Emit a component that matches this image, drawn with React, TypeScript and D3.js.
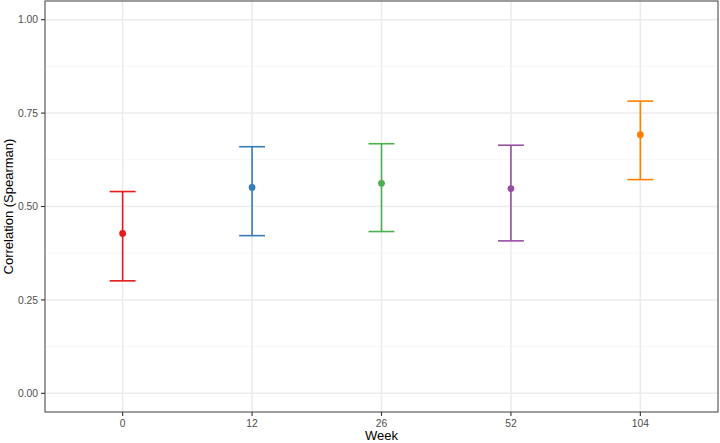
import React from "react";
import * as d3 from "d3";

const weeks = ["0", "12", "26", "52", "104"];
const estimates = [0.428, 0.551, 0.562, 0.548, 0.692];
const lowers = [0.301, 0.422, 0.433, 0.408, 0.572];
const uppers = [0.540, 0.660, 0.668, 0.664, 0.782];
const colors = ["#E41A1C", "#377EB8", "#4DAF4A", "#984EA3", "#FF7F00"];
const yTicks = [0, 0.25, 0.5, 0.75, 1.0];
const yMinor = [0.125, 0.375, 0.625, 0.875];

const W = 720, H = 443;
const left = 45, right = 718, top = 1, bottom = 412;
const font = "'Liberation Sans', Arial, Helvetica, sans-serif";

export default function App() {
  const x = d3.scalePoint<string>().domain(weeks).range([left, right]).padding(0.6);
  const y = d3.scaleLinear().domain([-0.05, 1.05]).range([bottom, top]);
  const capHalf = (x.step() * 0.2) / 2;

  return (
    <svg width={W} height={H} style={{ position: "absolute", left: 0, top: 0 }} fontFamily={font}>
      <rect x={0} y={0} width={W} height={H} fill="#fff" />
      {yMinor.map((v) => (
        <line key={"mi" + v} x1={left} x2={right} y1={y(v)} y2={y(v)} stroke="#F2F2F2" strokeWidth={0.8} />
      ))}
      {yTicks.map((v) => (
        <line key={"ma" + v} x1={left} x2={right} y1={y(v)} y2={y(v)} stroke="#EBEBEB" strokeWidth={1.5} />
      ))}
      {weeks.map((w) => (
        <line key={"gx" + w} x1={x(w)} x2={x(w)} y1={top} y2={bottom} stroke="#EBEBEB" strokeWidth={1.5} />
      ))}
      {weeks.map((w, i) => {
        const cx = x(w)!;
        return (
          <g key={"e" + w} stroke={colors[i]} strokeWidth={1.6}>
            <line x1={cx} x2={cx} y1={y(lowers[i])} y2={y(uppers[i])} />
            <line x1={cx - capHalf} x2={cx + capHalf} y1={y(lowers[i])} y2={y(lowers[i])} />
            <line x1={cx - capHalf} x2={cx + capHalf} y1={y(uppers[i])} y2={y(uppers[i])} />
            <circle cx={cx} cy={y(estimates[i])} r={3.4} fill={colors[i]} stroke="none" />
          </g>
        );
      })}
      <rect x={left} y={top} width={right - left} height={bottom - top} fill="none" stroke="#4D4D4D" strokeWidth={1.1} />
      {yTicks.map((v) => (
        <g key={"yt" + v}>
          <line x1={left - 4} x2={left} y1={y(v)} y2={y(v)} stroke="#333" strokeWidth={1.1} />
          <text x={left - 7} y={y(v)} dy="0.35em" textAnchor="end" fontSize={10.3} fill="#4D4D4D">
            {d3.format(".2f")(v)}
          </text>
        </g>
      ))}
      {weeks.map((w) => (
        <g key={"xt" + w}>
          <line x1={x(w)} x2={x(w)} y1={bottom} y2={bottom + 4} stroke="#333" strokeWidth={1.1} />
          <text x={x(w)} y={426.5} textAnchor="middle" fontSize={10.3} fill="#4D4D4D">
            {w}
          </text>
        </g>
      ))}
      <text x={(left + right) / 2} y={439.5} textAnchor="middle" fontSize={13} fill="#000">
        Week
      </text>
      <text
        transform={`translate(12.5, ${(top + bottom) / 2}) rotate(-90)`}
        textAnchor="middle"
        fontSize={13}
        fill="#000"
      >
        Correlation (Spearman)
      </text>
    </svg>
  );
}
